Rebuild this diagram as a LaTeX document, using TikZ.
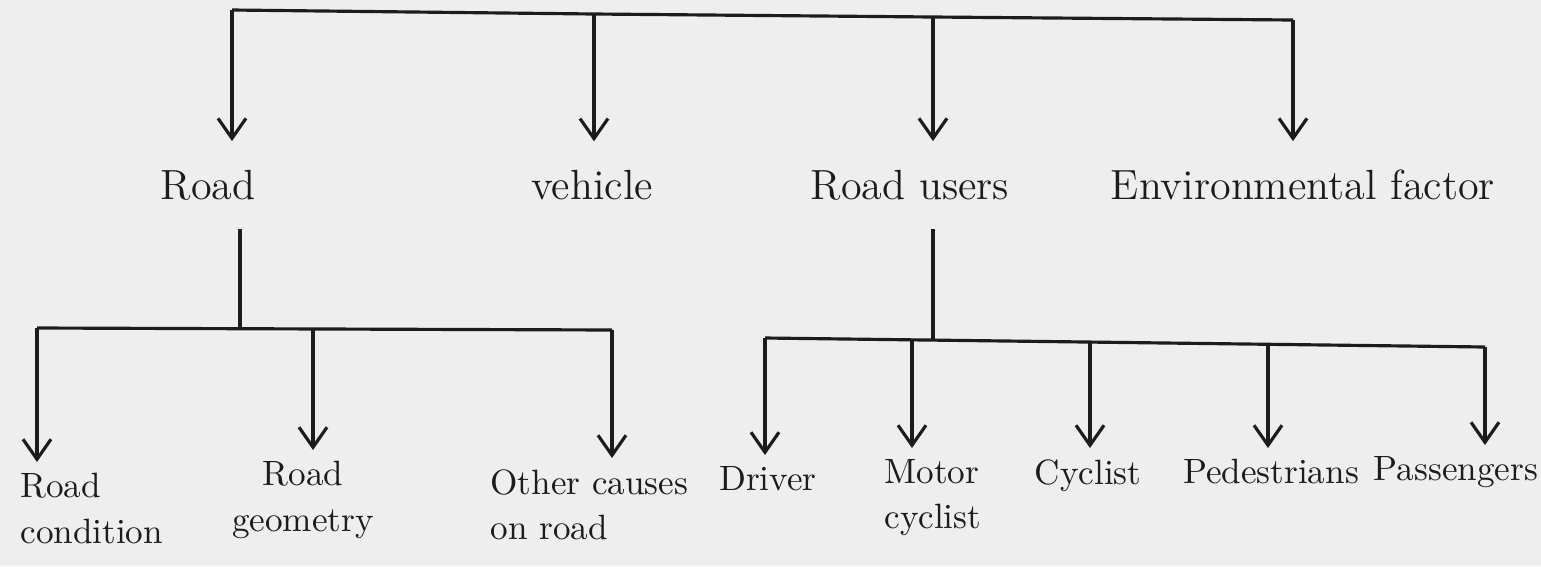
\documentclass[tikz,border=0pt]{standalone}
\usetikzlibrary{arrows.meta}
\definecolor{inkblack}{HTML}{1C1C1C}
\definecolor{paper}{HTML}{EEEEEE}
\tikzset{
  ink/.style={draw=inkblack, line width=0.9pt},
  arr/.style={ink, -{Straight Barb[length=2mm,width=2.8mm]}},
  cat/.style={text=inkblack, font=\fontsize{12}{14}\selectfont, inner ysep=8pt},
  sub/.style={text=inkblack, font=\fontsize{10}{13}\selectfont, inner ysep=3pt},
}

\begin{document}
\begin{tikzpicture}[x=0.01cm,y=-0.01cm]
\fill[paper] (0,0) rectangle (1541,566);
\useasboundingbox (0,0) rectangle (1541,566);
% top level
\node[cat] (road) at (208,185) {Road};
\node[cat] (vehicle) at (592,185) {vehicle};
\node[cat] (users) at (910,185) {Road users};
\node[cat] (env) at (1303,185) {Environmental factor};
% under road and road users
\node[sub, align=left, anchor=north west] (cond) at (8,462) {Road\\condition};
\node[sub, align=center, anchor=north] (geom) at (303,450) {Road\\geometry};
\node[sub, align=left, anchor=north west] (other) at (478,458) {Other causes\\on road};
\node[sub, anchor=north] (driver) at (768,455) {Driver};
\node[sub, align=left, anchor=north west] (motor) at (872,448) {Motor\\cyclist};
\node[sub, anchor=north] (cyclist) at (1088,448) {Cyclist};
\node[sub, anchor=north] (ped) at (1271,448) {Pedestrians};
\node[sub, anchor=north] (pass) at (1456,445) {Passengers};
% bars
\coordinate (t1) at (232,10); \coordinate (t2) at (594,14);
\coordinate (t3) at (933,17); \coordinate (t4) at (1293,20);
\coordinate (l1) at (37,328); \coordinate (lj) at (240,328);
\coordinate (l2) at (313,329); \coordinate (l3) at (612,330);
\coordinate (r1) at (765,338); \coordinate (r2) at (912,340);
\coordinate (uj) at (933,340); \coordinate (r3) at (1090,342);
\coordinate (r4) at (1268,344); \coordinate (r5) at (1485,347);
\draw[ink] (t1) -- (t2) -- (t3) -- (t4);
\draw[ink] (l1) -- (l3);
\draw[ink] (r1) -- (r5);
\draw[ink] (road.south -| lj) -- (lj);
\draw[ink] (users.south -| uj) -- (uj);
\foreach \b/\n in {t1/road,t2/vehicle,t3/users,t4/env,l1/cond,l2/geom,l3/other,
  r1/driver,r2/motor,r3/cyclist,r4/ped,r5/pass}
  \draw[arr] (\b) -- (\b |- \n.north);
\end{tikzpicture}
\end{document}
